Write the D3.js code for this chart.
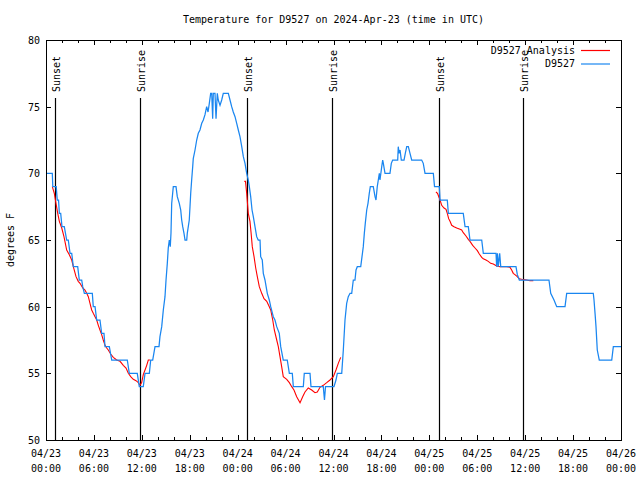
<!DOCTYPE html>
<html><head><meta charset="utf-8">
<script src="https://cdn.jsdelivr.net/npm/d3@7"></script>
<style>
body{margin:0;background:#fff}
svg{display:block}
text{font-family:"DejaVu Sans Mono","Liberation Mono",monospace;font-size:10px;fill:#000}
</style>
</head><body>
<svg id="chart" width="640" height="480"></svg>
<script>
// ---- data (hours since 2024-04-23 00:00 UTC, temperature in F) ----
const obsHours = [0,0.79,0.85,1.28,1.41,1.57,1.67,1.84,2.00,2.29,2.59,2.79,3.01,3.22,3.42,3.97,4.17,4.47,4.60,4.80,5.80,5.92,6.14,6.35,6.76,6.97,7.26,7.39,7.93,8.23,10.18,10.43,11.43,11.68,12.18,12.40,12.94,13.11,13.36,13.65,14.15,14.27,14.49,14.69,14.90,15.03,15.19,15.31,15.44,15.56,15.65,15.74,15.94,16.28,16.44,16.69,16.87,16.99,17.12,17.28,17.41,17.62,17.69,17.94,18.03,18.12,18.24,18.37,18.44,18.66,18.87,19.07,19.28,19.50,19.70,19.91,20.12,20.29,20.45,20.62,20.75,20.87,20.95,21.16,21.29,21.45,21.57,21.79,22.00,22.20,22.83,23.04,23.25,23.45,23.67,23.88,24.08,24.29,24.51,24.71,24.92,25.13,25.33,25.46,25.63,25.80,25.96,26.17,26.38,26.58,26.80,26.88,27.08,27.21,27.42,27.71,27.96,28.14,28.46,28.67,28.89,29.21,29.39,29.71,30.21,30.47,30.84,30.97,32.22,32.34,33.06,33.18,34.72,34.87,35.00,36.06,36.31,36.48,37.03,37.23,37.44,37.65,37.85,38.07,38.28,38.48,38.69,38.82,38.98,39.41,39.57,39.73,39.86,39.98,40.16,40.32,40.48,40.61,40.98,41.20,41.32,41.48,41.61,41.74,41.82,42.04,42.16,42.24,42.45,43.07,43.24,43.41,44.04,44.11,44.20,44.33,44.49,44.83,44.99,45.17,45.37,45.58,45.79,47.04,47.24,47.46,48.50,48.65,49.25,49.34,50.25,50.38,52.25,52.47,52.88,53.09,54.56,54.76,56.35,56.43,56.53,56.63,56.81,56.94,58.85,59.02,59.27,62.98,63.20,63.61,63.95,64.99,65.20,68.53,68.62,68.75,68.87,69.03,69.28,70.84,71.04,72.00];
const obsTemps = [70,70,69,69,68,68,67,67,66,66,65,65,64,64,63,63,62,62,61.5,61,61,60,60,59,59,58,58,57,57,56,56,55,55,54,54,55,55,56,56,57,57,57.75,58.5,59.75,60.75,62,63.25,64.4,65,64.5,65.5,67.75,69,69,68.25,67.75,67.25,66.5,66,65.5,65,65,65.5,66.5,67.5,68.5,69.5,70.5,71.1,71.75,72.5,73,73.25,73.75,74,74.4,75,74.6,75.25,76,76,74.1,76,76,74.1,76,75.5,75.1,75.5,76,76,75.5,75,74.6,74.25,73.75,73.25,72.75,72,71.25,70.75,70,69.5,69,68.25,67.25,66.75,66,65.25,65,65,63.75,63.5,62.5,62,61,60.5,60,59.25,59,58.5,58,57,56,56,55,55,54,54,55,55,54,54,53,54,54,54.5,55,55,56.75,59,60.25,60.75,61,61,62,62,62.75,63,63,63.75,64.5,65.5,66.25,67.25,67.75,68.5,69,69,68.25,68,69,69.5,70,69.5,70.5,71,70.75,70,70,70.75,71,71,72,71.5,71.75,71,71,71.5,72,72,71.5,71,71,70.75,70,70,69,69,68,68,67,67,66,66,65,65,64,64,63,64,63,64,63,63,62.4,62,62,61,60.5,60,60,61,61,60.5,59.5,58.5,56.75,56,56,57,57];

const anaHours1 = [0.79,1.04,1.25,1.47,1.67,1.97,2.25,2.59,2.92,3.22,3.42,3.76,4.04,4.26,4.60,4.88,5.10,5.30,5.51,5.72,5.92,6.14,6.35,6.55,6.76,6.97,7.17,7.39,7.60,7.80,8.10,8.43,8.85,9.27,9.68,10.02,10.31,10.61,10.93,11.27,11.56,11.77,11.98,12.18,12.40,12.61,12.81,13.02];
const anaTemps1 = [69,68.5,67.75,67,66.4,65.9,65.25,64.25,63.9,63.5,63,62.25,61.9,61.75,61.4,61.25,61,60.75,60.25,59.75,59.5,59.25,59,58.6,58.25,57.9,57.5,57.1,56.9,56.75,56.45,56.2,56,55.9,55.6,55.4,55,54.75,54.55,54.45,54.3,54.1,54.3,54.9,55.25,55.6,56,56];
const anaHours2 = [24.83,24.98,25.13,25.33,25.54,25.67,25.83,26.05,26.26,26.46,26.71,27.01,27.30,27.64,27.96,28.14,28.39,28.59,28.89,29.09,29.30,29.51,29.71,30.14,30.47,30.77,31.05,31.39,31.81,32.14,32.43,32.84,33.27,33.68,33.97,34.31,34.72,35.15,35.56,35.98,36.31,36.60,36.90];
const anaTemps2 = [69.4,69.4,68.5,67,66.4,65.6,64.5,63.75,62.9,62.25,61.5,61,60.6,60.4,60,59.75,59,58.25,57.5,57,56.25,55.5,54.75,54.55,54.3,54,53.75,53.25,52.8,53.25,53.6,53.9,53.75,53.55,53.6,53.95,54.1,54.3,54.5,54.75,55.25,55.75,56.2];
const anaHours3 = [48.83,49.02,49.34,49.55,49.84,50.09,50.25,50.42,50.59,50.80,51.09,51.43,51.84,52.05,52.25,52.59,52.88,53.09,53.43,53.72,54.01,54.26,54.56,54.76,55.09,55.38,55.68,56.01,56.43,56.85,57.69,58.10,58.31,58.51,58.72,59.01,59.26,59.56,60.19,60.60,61.02];
const anaTemps3 = [68.6,68.5,68,67.6,67.4,67.3,67,66.6,66.4,66.1,66,65.9,65.8,65.75,65.55,65.3,65.05,64.9,64.6,64.4,64.2,63.95,63.7,63.6,63.5,63.4,63.25,63.2,63.05,63,63,62.95,62.75,62.5,62.4,62.25,62.1,62.05,62,61.95,61.95];

const sunLabels = ["Sunset","Sunrise","Sunset","Sunrise","Sunset","Sunrise"];
const sunHours = [1.17,11.78,25.20,35.82,49.24,59.76];

const xTickHours = [0,6,12,18,24,30,36,42,48,54,60,66,72];
const xTickDates = ["04/23","04/23","04/23","04/23","04/24","04/24","04/24","04/24","04/25","04/25","04/25","04/25","04/26"];
const xTickTimes = ["00:00","06:00","12:00","18:00","00:00","06:00","12:00","18:00","00:00","06:00","12:00","18:00","00:00"];
const xMinorHours = d3.range(0, 73, 2);
const yTicks = [50,55,60,65,70,75,80];

const titleText = "Temperature for D9527 on 2024-Apr-23 (time in UTC)";
const yLabel = "degrees F";
const seriesNames = ["D9527 Analysis","D9527"];
const seriesColors = ["#ff0000","#1a86f0"];

// ---- chart ----
const svg = d3.select("#chart");
const L = 46, R = 621, T = 40, B = 440;
const x = d3.scaleLinear().domain([0,72]).range([L,R]);
const y = d3.scaleLinear().domain([50,80]).range([B,T]);

svg.append("text").attr("x",(L+R)/2).attr("y",23).attr("text-anchor","middle").text(titleText);

// sunrise/sunset markers
sunHours.forEach((h,i)=>{
  const xs = Math.round(x(h))+0.5;
  svg.append("line").attr("x1",xs).attr("x2",xs).attr("y1",98).attr("y2",B)
    .attr("stroke","#000").attr("stroke-width",1.2);
  svg.append("text").attr("transform",`translate(${xs+4.5},92) rotate(-90)`)
    .attr("text-anchor","start").text(sunLabels[i]);
});

// axes ticks (inward)
const gx = svg.append("g").attr("shape-rendering","crispEdges");
function ticks(axisGen, tr){
  const g = gx.append("g").attr("transform",tr).call(axisGen);
  g.select(".domain").remove();
  g.selectAll("text").remove();
  return g;
}
ticks(d3.axisBottom(x).tickValues(xMinorHours).tickSize(-3).tickFormat(""),`translate(0,${B})`);
ticks(d3.axisTop(x).tickValues(xMinorHours).tickSize(-3).tickFormat(""),`translate(0,${T})`);
ticks(d3.axisBottom(x).tickValues(xTickHours).tickSize(-5).tickFormat(""),`translate(0,${B})`);
ticks(d3.axisTop(x).tickValues(xTickHours).tickSize(-5).tickFormat(""),`translate(0,${T})`);
ticks(d3.axisRight(y).tickValues(yTicks).tickSize(-5).tickFormat(""),`translate(${R},0)`);
const gl = gx.append("g").attr("transform",`translate(${L},0)`)
  .call(d3.axisLeft(y).tickValues(yTicks).tickSize(-5).tickPadding(6).tickFormat(d3.format("d")));
gl.select(".domain").remove();
gl.selectAll("text").attr("font-family",null).attr("font-size",null).attr("dy","0.36em");
gx.selectAll("line").attr("stroke","#000");

// x labels (two lines)
xTickHours.forEach((h,i)=>{
  svg.append("text").attr("x",x(h)).attr("y",457).attr("text-anchor","middle").text(xTickDates[i]);
  svg.append("text").attr("x",x(h)).attr("y",472).attr("text-anchor","middle").text(xTickTimes[i]);
});

// y label
svg.append("text").attr("transform",`translate(14,${(T+B)/2}) rotate(-90)`)
  .attr("text-anchor","middle").text(yLabel);

// data lines
const line = d3.line().x(d=>x(d[0])).y(d=>y(d[1]));
[[anaHours1,anaTemps1],[anaHours2,anaTemps2],[anaHours3,anaTemps3]].forEach(([hs,ts])=>{
  svg.append("path").datum(hs.map((h,i)=>[h,ts[i]])).attr("d",line)
    .attr("fill","none").attr("stroke",seriesColors[0]).attr("stroke-width",1.1);
});
svg.append("path").datum(obsHours.map((h,i)=>[h,obsTemps[i]])).attr("d",line)
  .attr("fill","none").attr("stroke",seriesColors[1]).attr("stroke-width",1.25);

// frame
svg.append("rect").attr("x",L+0.5).attr("y",T+0.5).attr("width",R-L).attr("height",B-T)
  .attr("fill","none").attr("stroke","#000").attr("shape-rendering","crispEdges");

// legend
seriesNames.forEach((n,i)=>{
  const yy = 50 + i*13.5;
  svg.append("text").attr("x",575).attr("y",yy+3.8).attr("text-anchor","end").text(n);
  svg.append("line").attr("x1",581).attr("x2",610).attr("y1",yy+0.5).attr("y2",yy+0.5)
    .attr("stroke",seriesColors[i]).attr("stroke-width",1.2);
});
</script>
</body></html>
